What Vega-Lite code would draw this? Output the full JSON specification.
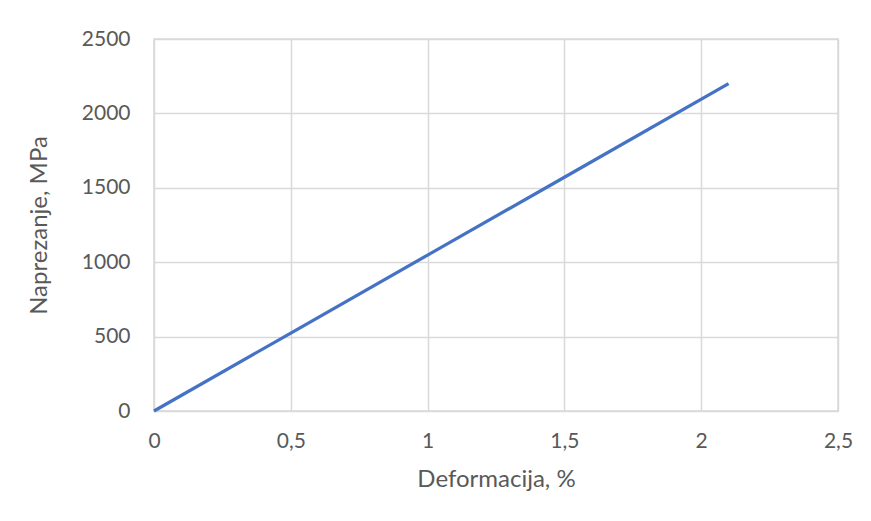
{
  "$schema": "https://vega.github.io/schema/vega-lite/v6.json",
  "autosize": {"type": "none"},
  "width": 684,
  "height": 372,
  "padding": {"left": 154, "top": 39, "right": 33, "bottom": 110},
  "background": "#ffffff",
  "data": {
    "values": [
      {"deformacija": 0, "naprezanje": 0},
      {"deformacija": 0.5, "naprezanje": 524},
      {"deformacija": 1, "naprezanje": 1048},
      {"deformacija": 1.5, "naprezanje": 1571},
      {"deformacija": 2.1, "naprezanje": 2200}
    ]
  },
  "mark": {"type": "line", "color": "#4472C4", "strokeWidth": 3.2},
  "encoding": {
    "x": {
      "field": "deformacija",
      "type": "quantitative",
      "title": "Deformacija, %",
      "scale": {"domain": [0, 2.5], "nice": false, "zero": true},
      "axis": {
        "values": [0, 0.5, 1, 1.5, 2, 2.5],
        "labelExpr": "replace(toString(datum.value), '.', ',')",
        "labelFlush": false,
        "labelOverlap": false,
        "labelPadding": 19,
        "titlePadding": 16
      }
    },
    "y": {
      "field": "naprezanje",
      "type": "quantitative",
      "title": "Naprezanje, MPa",
      "scale": {"domain": [0, 2500], "nice": false},
      "axis": {
        "values": [0, 500, 1000, 1500, 2000, 2500],
        "format": "d",
        "labelFlush": false,
        "labelOverlap": false,
        "labelPadding": 24,
        "titlePadding": 30
      }
    }
  },
  "config": {
    "font": "Lato",
    "view": {"stroke": "#d9d9d9", "strokeWidth": 1.5},
    "axis": {
      "domain": false,
      "ticks": false,
      "grid": true,
      "gridColor": "#d9d9d9",
      "gridWidth": 1.5,
      "labelFont": "Lato",
      "labelFontSize": 21,
      "labelColor": "#595959",
      "titleFont": "Lato",
      "titleFontSize": 24,
      "titleFontWeight": "normal",
      "titleColor": "#595959"
    }
  }
}
